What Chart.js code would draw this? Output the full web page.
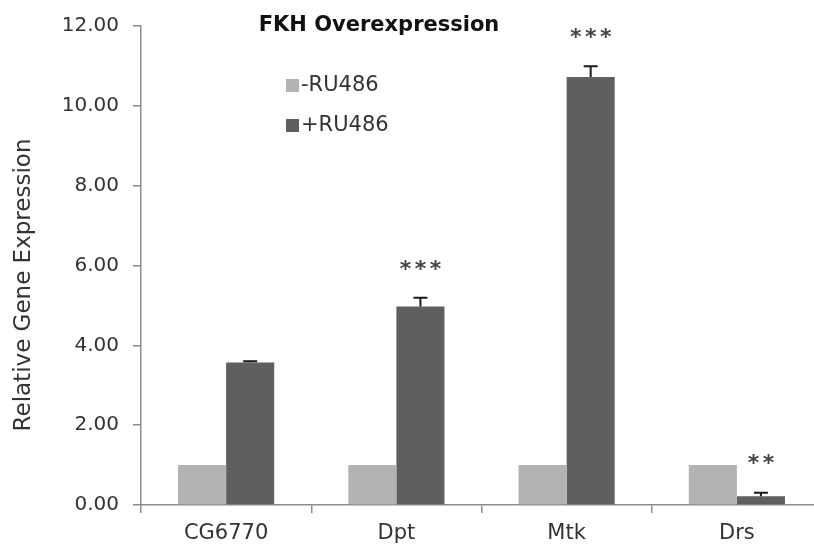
<!DOCTYPE html>
<html>
<head>
<meta charset="utf-8">
<script src="https://cdn.jsdelivr.net/npm/chart.js@4.4.1/dist/chart.umd.min.js"></script>
<style>
  html, body { margin: 0; padding: 0; background: #fff; overflow: hidden; }
  #wrap { width: 814px; height: 554px; overflow: hidden; position: relative; }
  canvas { display: block; }
</style>
</head>
<body>
<div id="wrap"><canvas id="c" width="822" height="554"></canvas></div>
<script>
const categories = ['CG6770', 'Dpt', 'Mtk', 'Drs'];
const seriesNames = ['-RU486', '+RU486'];
const controlValues = [1.00, 1.00, 1.00, 1.00];
const treatedValues = [3.57, 4.97, 10.72, 0.22];
const treatedErrors = [0.03, 0.22, 0.27, 0.09];
const significance = ['', '***', '***', '**'];
const yTicks = [0, 2, 4, 6, 8, 10, 12];
const chartTitle = 'FKH Overexpression';
const yTitle = 'Relative Gene Expression';

const LIGHT = '#b3b3b3';
const DARK = '#5f5f5f';
const AXIS = '#8c8c8c';
const TEXT = '#333333';

const overlay = {
  id: 'overlay',
  afterDatasetsDraw(chart) {
    const ctx = chart.ctx;
    const y = chart.scales.y;
    const meta = chart.getDatasetMeta(1);
    ctx.save();
    ctx.strokeStyle = '#1a1a1a';
    ctx.lineWidth = 2;
    treatedValues.forEach((v, i) => {
      const bar = meta.data[i];
      const x = bar.x;
      const yTop = y.getPixelForValue(v);
      const yErr = y.getPixelForValue(v + treatedErrors[i]);
      ctx.beginPath();
      ctx.moveTo(x, yTop);
      ctx.lineTo(x, yErr);
      ctx.moveTo(x - 7, yErr);
      ctx.lineTo(x + 7, yErr);
      ctx.stroke();
      const s = significance[i];
      if (s) {
        ctx.fillStyle = '#444';
        ctx.font = 'bold 22px "DejaVu Sans"';
        ctx.textAlign = 'center';
        ctx.textBaseline = 'middle';
        const n = s.length, gap = 15;
        for (let k = 0; k < n; k++) {
          const sx = x + (k - (n - 1) / 2) * gap;
          ctx.fillText('*', sx, yErr - 28);
        }
      }
    });
    ctx.restore();
  },
  afterDraw(chart) {
    const ctx = chart.ctx;
    ctx.save();
    ctx.fillStyle = '#111';
    ctx.font = 'bold 21px "DejaVu Sans"';
    ctx.textAlign = 'center';
    ctx.textBaseline = 'middle';
    ctx.fillText(chartTitle, 379, 26);
    ctx.save();
    ctx.translate(24, 285);
    ctx.rotate(-Math.PI / 2);
    ctx.fillStyle = TEXT;
    ctx.font = '23px "DejaVu Sans"';
    ctx.fillText(yTitle, 0, 0);
    ctx.restore();
    const colors = [LIGHT, DARK];
    ctx.font = '21px "DejaVu Sans"';
    ctx.textAlign = 'left';
    seriesNames.forEach((name, i) => {
      const cy = 85 + i * 40;
      ctx.fillStyle = colors[i];
      ctx.fillRect(286, cy - 6, 13, 13);
      ctx.fillStyle = TEXT;
      ctx.fillText(name, 301, cy + 1);
    });
    ctx.restore();
  }
};

new Chart(document.getElementById('c'), {
  type: 'bar',
  data: {
    labels: categories,
    datasets: [
      { label: seriesNames[0], data: controlValues, backgroundColor: LIGHT, borderWidth: 0 },
      { label: seriesNames[1], data: treatedValues, backgroundColor: DARK, borderWidth: 0 }
    ]
  },
  options: {
    responsive: false,
    animation: false,
    devicePixelRatio: 1,
    layout: { padding: { top: 25, right: 0, left: 0, bottom: 0 } },
    plugins: { legend: { display: false }, tooltip: { enabled: false }, title: { display: false } },
    datasets: { bar: { categoryPercentage: 0.565, barPercentage: 1.0 } },
    scales: {
      x: {
        offset: true,
        grid: { display: true, drawOnChartArea: false, offset: true, tickLength: 8, color: AXIS, lineWidth: 1.5 },
        border: { display: true, color: AXIS, width: 1.5 },
        ticks: { color: TEXT, font: { family: 'DejaVu Sans', size: 21 }, padding: 8, maxRotation: 0 },
        afterFit(scale) { scale.height = 49; }
      },
      y: {
        min: 0, max: 12,
        afterBuildTicks(scale) { scale.ticks = yTicks.map(v => ({ value: v })); },
        grid: { display: true, drawOnChartArea: false, tickLength: 8, color: AXIS, lineWidth: 1.5 },
        border: { display: true, color: AXIS, width: 1.5 },
        ticks: { color: TEXT, font: { family: 'DejaVu Sans', size: 20 }, padding: 14, callback: v => Number(v).toFixed(2) },
        afterFit(scale) { scale.width = 141; }
      }
    }
  },
  plugins: [overlay]
});
</script>
</body>
</html>
